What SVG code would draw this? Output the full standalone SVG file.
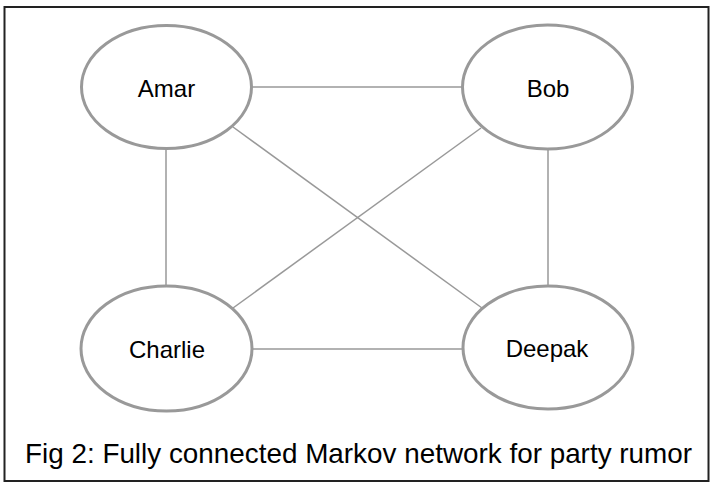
<svg xmlns="http://www.w3.org/2000/svg" width="716" height="490" viewBox="0 0 716 490">
<style>
.node{fill:#fff;stroke:#999;stroke-width:3}
.lbl{font-family:"Liberation Sans",Arial,sans-serif;font-size:24px;fill:#000;text-anchor:middle}
.edge{stroke:#999;stroke-width:1.5;fill:none}
.cap{font-family:"Liberation Sans Narrow","Liberation Sans",Arial,sans-serif;font-size:28px;fill:#000}
</style>
<rect x="0" y="0" width="716" height="490" fill="#fff"/>
<rect x="4.5" y="7" width="704" height="474" fill="#fff" stroke="#222" stroke-width="2"/>
<g id="connectors">
<line class="edge" x1="252" y1="87" x2="462" y2="87"/>
<line class="edge" x1="252" y1="349" x2="463" y2="349"/>
<line class="edge" x1="166" y1="148" x2="166" y2="286"/>
<line class="edge" x1="548" y1="149" x2="548" y2="286"/>
<line class="edge" x1="233" y1="127" x2="482" y2="308"/>
<line class="edge" x1="233" y1="308" x2="481" y2="128"/>
</g>
<g id="amar"><ellipse class="node" cx="166.5" cy="87" rx="85" ry="61.5"/><text class="lbl" x="166.5" y="97">Amar</text></g>
<g id="bob"><ellipse class="node" cx="547.5" cy="87" rx="85" ry="62"/><text class="lbl" x="548" y="97">Bob</text></g>
<g id="charlie"><ellipse class="node" cx="166.5" cy="348.5" rx="85.5" ry="62.5"/><text class="lbl" x="167" y="358">Charlie</text></g>
<g id="deepak"><ellipse class="node" cx="548" cy="347.5" rx="85" ry="61.5"/><text class="lbl" x="547" y="357">Deepak</text></g>
<text class="cap" x="25" y="463" textLength="667" lengthAdjust="spacingAndGlyphs">Fig 2: Fully connected Markov network for party rumor</text>
</svg>
